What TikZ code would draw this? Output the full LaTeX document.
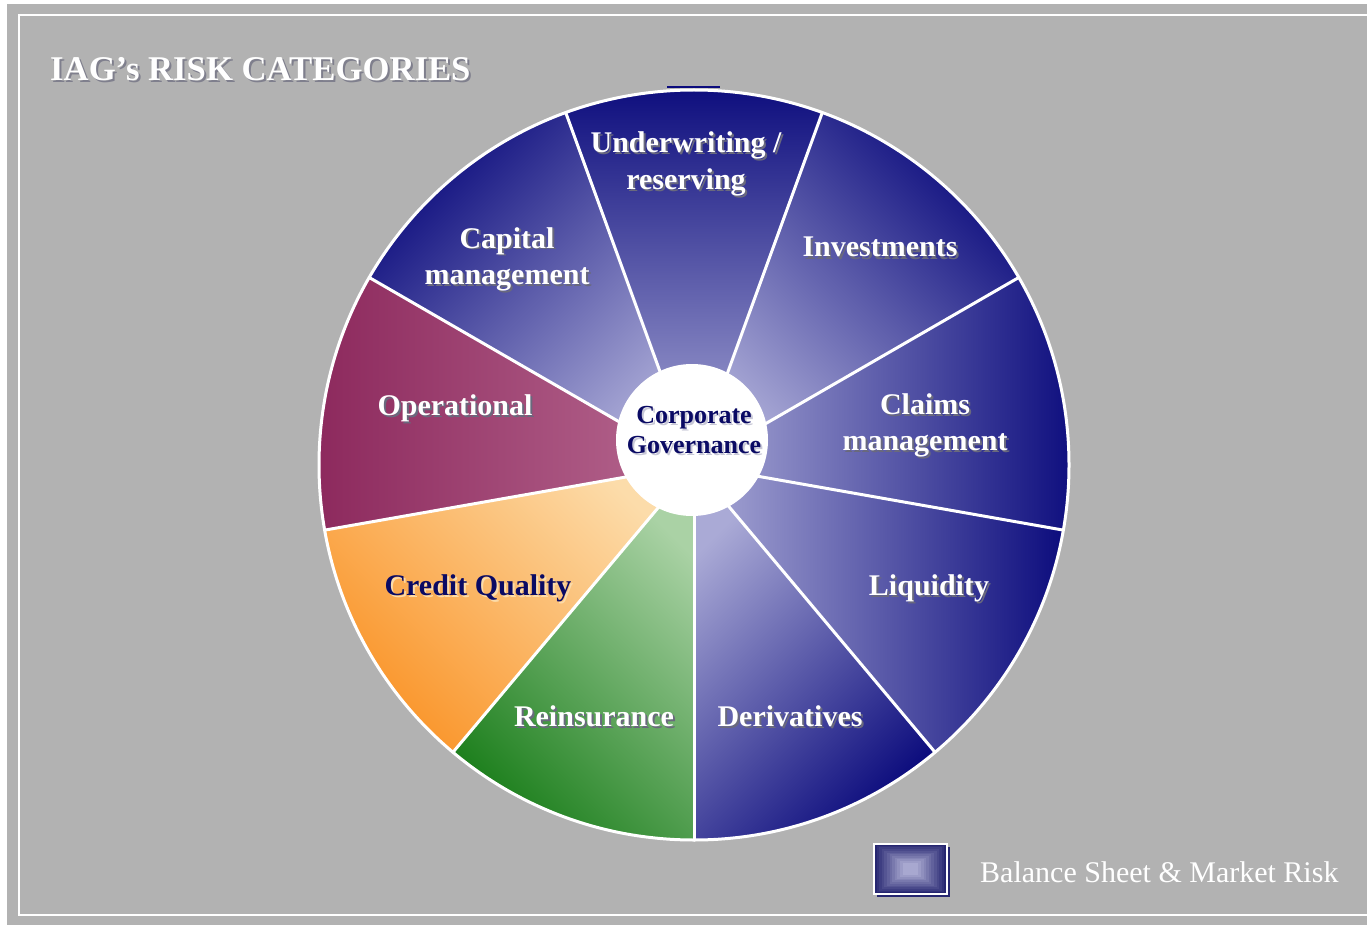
\documentclass[tikz,border=0pt]{standalone}
\usepackage{fontspec}
\setmainfont{Liberation Serif}
\definecolor{bgray}{RGB}{178,178,178}
\definecolor{bluelight}{RGB}{170,170,214}
\definecolor{bluedark}{RGB}{12,12,125}
\definecolor{oplight}{RGB}{182,104,144}
\definecolor{opdark}{RGB}{140,40,92}
\definecolor{crlight}{RGB}{252,220,170}
\definecolor{crdark}{RGB}{250,148,40}
\definecolor{relight}{RGB}{170,210,165}
\definecolor{redark}{RGB}{30,128,30}
\definecolor{navytext}{RGB}{10,10,100}
\definecolor{shadowgray}{RGB}{105,105,125}
\definecolor{lightshadow}{RGB}{200,200,215}
\definecolor{legdark}{RGB}{38,38,112}
\definecolor{leglight}{RGB}{168,168,208}
\tikzset{
  lbl/.style={font=\fontsize{30}{36}\selectfont\bfseries, anchor=base, inner sep=0pt},
  cgl/.style={font=\fontsize{26}{30}\selectfont\bfseries, anchor=base, inner sep=0pt},
  sep/.style={draw=white, line width=3pt},
}
% #1 style, #2 name, #3 x, #4 y, #5 text colour, #6 shadow colour, #7 text
\newcommand{\shlab}[7]{%
  \node[#1, text=#6] (#2-s) at (#3+2,#4+2) {#7};
  \node[#1, text=#5] (#2) at (#3,#4) {#7};}
% #1 start angle, #2 dark, #3 light, #4 shading angle
\newcommand{\pieslice}[4]{%
  \shade[top color=#2, bottom color=#3, shading angle=#4]
    (pc) -- ++(#1:375) arc[start angle=#1, end angle=#1+40, radius=375] -- cycle;}
\begin{document}
\begin{tikzpicture}[x=1pt,y=-1pt]
\useasboundingbox (0,0) rectangle (1367,925);
\fill[white] (0,0) rectangle (1367,925);
\fill[bgray] (7,4) rectangle (1367,925);
\draw[white, line width=2pt] (1367,15) -- (19,15) -- (19,915) -- (1367,915);

% title
\shlab{lbl, font=\fontsize{34.7}{40}\selectfont\bfseries, anchor=base west}{title}{50}{81}{white}{shadowgray!70!bgray}{IAG’s RISK CATEGORIES}

% pie
\coordinate (pc) at (694,465);
\draw[bluedark, line width=1.2pt] (667,87) -- (720,87);
\pieslice{90}{redark}{relight}{135}
\pieslice{130}{crdark}{crlight}{135}
\pieslice{170}{opdark}{oplight}{90}
\pieslice{210}{bluedark}{bluelight}{45}
\pieslice{250}{bluedark}{bluelight}{0}
\pieslice{290}{bluedark}{bluelight}{-45}
\pieslice{330}{bluedark}{bluelight}{-90}
\pieslice{10}{bluedark}{bluelight}{-90}
\pieslice{50}{bluedark}{bluelight}{-135}
\foreach \a in {10,50,90,130,170,210,250,290,330}
  \draw[sep, line cap=round] (pc) -- ++(\a:375);
\draw[sep] (pc) circle (375);

% centre
\fill[white] (692,440) circle (76);
\shlab{cgl}{cg1}{694}{423}{navytext}{lightshadow}{Corporate}
\shlab{cgl}{cg2}{694}{453}{navytext}{lightshadow}{Governance}

% labels
\shlab{lbl}{uw1}{686}{153}{white}{shadowgray}{Underwriting /}
\shlab{lbl}{uw2}{686}{190}{white}{shadowgray}{reserving}
\shlab{lbl}{cap1}{507}{248}{white}{shadowgray}{Capital}
\shlab{lbl}{cap2}{507}{284}{white}{shadowgray}{management}
\shlab{lbl}{inv}{880}{257}{white}{shadowgray}{Investments}
\shlab{lbl}{clm1}{925}{414}{white}{shadowgray}{Claims}
\shlab{lbl}{clm2}{925}{450}{white}{shadowgray}{management}
\shlab{lbl}{op}{455}{415}{white}{shadowgray}{Operational}
\shlab{lbl}{cq}{478}{595}{navytext}{crlight}{Credit Quality}
\shlab{lbl}{liq}{929}{595}{white}{shadowgray}{Liquidity}
\shlab{lbl}{rein}{594}{726}{white}{shadowgray}{Reinsurance}
\shlab{lbl}{der}{790}{726}{white}{shadowgray}{Derivatives}

% legend
\fill[legdark] (877,847) rectangle (950,897);
\foreach \i in {0,...,11} {
  \pgfmathsetmacro{\mix}{100-\i*100/11}
  \fill[legdark!\mix!leglight] (874+\i*2.6,844+\i*1.7) rectangle (947-\i*2.6,894-\i*1.7);
}
\draw[white, line width=1.2pt] (874,844) rectangle (947,894);
\node[font=\fontsize{30}{36}\selectfont, text=white, anchor=base west, inner sep=0pt] (leg) at (980,882) {Balance Sheet \& Market Risk};
\end{tikzpicture}
\end{document}
